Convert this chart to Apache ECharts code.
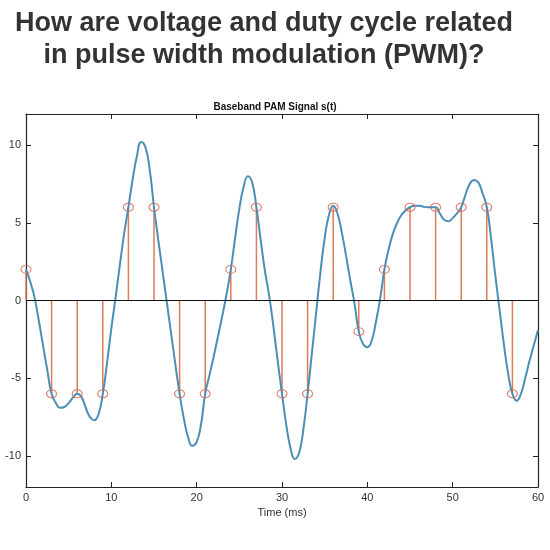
<!DOCTYPE html>
<html>
<head>
<meta charset="utf-8">
<script src="https://cdn.jsdelivr.net/npm/echarts@6/dist/echarts.min.js"></script>
<style>
  html, body { margin: 0; padding: 0; background: #fff; }
  #main { width: 550px; height: 550px; }
</style>
</head>
<body>
<div id="main"></div>
<script>
// sample instants (ms) and PAM amplitudes
const sampleTimes = [0, 3, 6, 9, 12, 15, 18, 21, 24, 27, 30, 33, 36, 39, 42, 45, 48, 51, 54, 57];
const sampleValues = [2, -6, -6, -6, 6, 6, -6, -6, 2, 6, -6, -6, 6, -2, 2, 6, 6, 6, 6, -6];

// continuous signal every 0.5 ms
const curveTimes = [
  0, 0.5, 1, 1.5, 2, 2.5, 3, 3.5, 4, 4.5, 5, 5.5, 6, 6.5, 7, 7.5, 8, 8.5, 9, 9.5,
  10, 10.5, 11, 11.5, 12, 12.5, 13, 13.5, 14, 14.5, 15, 15.5, 16, 16.5, 17, 17.5, 18, 18.5, 19, 19.5,
  20, 20.5, 21, 21.5, 22, 22.5, 23, 23.5, 24, 24.5, 25, 25.5, 26, 26.5, 27, 27.5, 28, 28.5, 29, 29.5,
  30, 30.5, 31, 31.5, 32, 32.5, 33, 33.5, 34, 34.5, 35, 35.5, 36, 36.5, 37, 37.5, 38, 38.5, 39, 39.5,
  40, 40.5, 41, 41.5, 42, 42.5, 43, 43.5, 44, 44.5, 45, 45.5, 46, 46.5, 47, 47.5, 48, 48.5, 49, 49.5,
  50, 50.5, 51, 51.5, 52, 52.5, 53, 53.5, 54, 54.5, 55, 55.5, 56, 56.5, 57, 57.5, 58, 58.5, 59, 59.5, 60
];
const curveValues = [
  2.0, 1.2, 0.2, -1.3, -2.9, -4.5, -6.0, -6.6, -6.9, -6.85, -6.6, -6.25, -6.0, -6.2, -6.9, -7.5, -7.7, -7.3, -6.0, -4.0,
  -1.8, 0.2, 2.3, 4.3, 6.0, 7.8, 9.3, 10.2, 9.85, 8.4, 6.0, 3.9, 1.9, -0.1, -2.1, -4.1, -6.0, -7.6, -8.8, -9.35,
  -9.1, -8.0, -6.0, -4.8, -3.6, -2.3, -1.0, 0.4, 2.0, 4.0, 5.9, 7.3, 8.0, 7.6, 6.0, 3.9, 1.9, 0.3, -1.7, -3.9,
  -6.0, -8.0, -9.5, -10.2, -9.8, -8.3, -6.0, -3.4, -0.8, 1.8, 4.0, 5.5, 6.1, 5.6, 4.4, 2.9, 1.3, -0.2, -2.0, -2.8,
  -3.0, -2.6, -1.4, 0.1, 2.0, 3.3, 4.3, 5.0, 5.5, 5.8, 6.0, 6.1, 6.1, 6.05, 6.0, 6.0, 6.0, 5.6, 5.2, 5.1,
  5.3, 5.6, 6.0, 6.8, 7.5, 7.75, 7.6, 6.9, 6.0, 4.0, 1.6, -0.6, -2.8, -4.7, -6.0, -6.45, -6.0, -5.0, -3.9, -2.9, -1.9
];

const yTicks = [-10, -5, 0, 5, 10];

const chart = echarts.init(document.getElementById('main'));

const font = 'Liberation Sans, Arial, sans-serif';
const tickStyle = { inside: true, length: 5, lineStyle: { color: '#222' } };
const lineStyle = { onZero: false, lineStyle: { color: '#222', width: 1.2 } };

chart.setOption({
  backgroundColor: '#fff',
  animation: false,
  title: [{
    text: 'How are voltage and duty cycle related\nin pulse width modulation (PWM)?',
    left: 259,
    textAlign: 'center',
    top: 3,
    textStyle: { fontFamily: font, fontSize: 27, fontWeight: 'bold', color: '#333', lineHeight: 32 }
  }, {
    text: 'Baseband PAM Signal s(t)',
    left: 'center',
    top: 97,
    textStyle: { fontFamily: font, fontSize: 10, fontWeight: 'bold', color: '#111' }
  }],
  grid: { left: 26, right: 12, top: 114, bottom: 63 },
  xAxis: [{
    type: 'value', min: 0, max: 60, interval: 10,
    axisLine: lineStyle, axisTick: tickStyle, splitLine: { show: false },
    axisLabel: { fontFamily: font, fontSize: 11, color: '#333', margin: 5 },
    name: 'Time (ms)', nameLocation: 'middle', nameGap: 20,
    nameTextStyle: { fontFamily: font, fontSize: 11, color: '#333' }
  }, {
    type: 'value', min: 0, max: 60, interval: 10, position: 'top',
    axisLine: lineStyle, axisTick: tickStyle, splitLine: { show: false },
    axisLabel: { show: false }
  }],
  yAxis: [{
    type: 'value', min: -12, max: 12,
    axisLine: lineStyle, splitLine: { show: false },
    axisTick: Object.assign({ customValues: yTicks }, tickStyle),
    axisLabel: { customValues: yTicks, fontFamily: font, fontSize: 11, color: '#333', margin: 5 }
  }, {
    type: 'value', min: -12, max: 12, position: 'right',
    axisLine: lineStyle, splitLine: { show: false },
    axisTick: Object.assign({ customValues: yTicks }, tickStyle),
    axisLabel: { show: false }
  }],
  series: [{
    type: 'bar',
    data: sampleTimes.map((t, i) => [t, sampleValues[i]]),
    barWidth: 1.5,
    itemStyle: { color: '#de7b58' },
    z: 2
  }, {
    type: 'line',
    data: curveTimes.map((t, i) => [t, curveValues[i]]),
    smooth: 0.5,
    showSymbol: false,
    lineStyle: { color: '#4b8fb6', width: 2 },
    markLine: {
      silent: true, symbol: 'none', label: { show: false },
      lineStyle: { color: '#111', width: 1.2, type: 'solid' },
      data: [{ yAxis: 0 }]
    },
    z: 3
  }, {
    type: 'scatter',
    data: sampleTimes.map((t, i) => [t, sampleValues[i]]),
    symbol: 'circle',
    symbolSize: [10, 8],
    itemStyle: { color: 'rgba(255,255,255,0)', borderColor: '#d2604a', borderWidth: 1 },
    z: 4
  }]
});
</script>
</body>
</html>
